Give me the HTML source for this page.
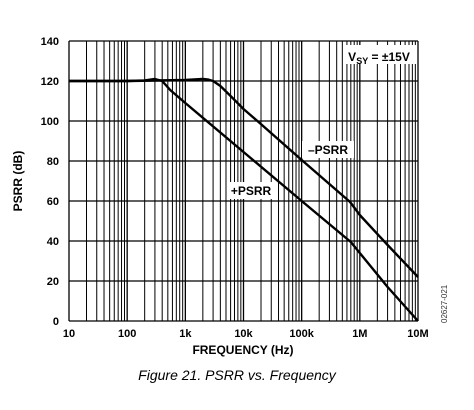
<!DOCTYPE html>
<html><head><meta charset="utf-8"><style>
html,body{margin:0;padding:0;background:#fff;}
svg{display:block;font-family:"Liberation Sans",Arial,sans-serif;}
</style></head><body>
<svg id="chart" width="474" height="410" viewBox="0 0 474 410">
<g id="grid"></g>
<g id="series"></g>
<g id="labels"></g>
<rect x="343" y="45" width="73" height="19" fill="#fff"/>
<text x="379" y="61" text-anchor="middle" font-size="12" font-weight="bold">V<tspan font-size="9" dy="3">SY</tspan><tspan dy="-3"> = ±15V</tspan></text>
<rect x="302" y="141" width="52" height="17" fill="#fff"/>
<text x="328" y="154" text-anchor="middle" font-size="12" font-weight="bold">–PSRR</text>
<rect x="228" y="182" width="46" height="17" fill="#fff"/>
<text x="251" y="195" text-anchor="middle" font-size="12" font-weight="bold">+PSRR</text>
<text x="243" y="354" text-anchor="middle" font-size="12" font-weight="bold">FREQUENCY (Hz)</text>
<text transform="translate(22,181) rotate(-90)" text-anchor="middle" font-size="12" font-weight="bold">PSRR (dB)</text>
<text x="237" y="380" text-anchor="middle" font-size="14" font-style="italic" fill="#000">Figure 21. PSRR vs. Frequency</text>
<text transform="translate(447,323) rotate(-90)" font-size="8" fill="#333">02627-021</text>
</svg>
<script>
const xTickValues=[10,100,1000,10000,100000,1000000,10000000];
const xTickLabels=["10","100","1k","10k","100k","1M","10M"];
const yTickValues=[0,20,40,60,80,100,120,140];
const plusFreq=[10,100,200,300,400,550,1000,10000,100000,700000,1000000,3000000,10000000];
const plusDb=[120,120,120.3,121,120,115.5,109,84.5,60,39.5,34,17,0];
const minusFreq=[10,100,1000,2000,2500,3000,4000,6000,10000,19000,100000,680000,1000000,3000000,10000000];
const minusDb=[120,120,120.5,121,120.7,120,117.5,112.5,106,99,80.5,59.5,53,38,22];

const L=69,R=418,T=41,B=321;
const X=f=>L+(Math.log10(f)-1)/6*(R-L);
const Y=d=>B-d/140*(B-T);
const ns="http://www.w3.org/2000/svg";
function mk(tag,attrs,parent){const e=document.createElementNS(ns,tag);for(const k in attrs)e.setAttribute(k,attrs[k]);parent.appendChild(e);return e;}
const grid=document.getElementById('grid'),series=document.getElementById('series'),labels=document.getElementById('labels');
for(let d=1;d<=6;d++){for(let m=2;m<=9;m++){const x=X(Math.pow(10,d)*m);
const ln=mk('line',{x1:x,x2:x,y1:T,y2:B,stroke:'#000','stroke-width':1},grid);

}}
xTickValues.forEach((v,i)=>{const x=X(v);
const ln=mk('line',{x1:x,x2:x,y1:T,y2:B,stroke:'#000','stroke-width':1.3},grid);


const t=mk('text',{x:x,y:337,'text-anchor':'middle','font-size':11,'font-weight':'bold'},labels);t.textContent=xTickLabels[i];

});
yTickValues.forEach(v=>{const y=Y(v);
const ln=mk('line',{x1:L,x2:R,y1:y,y2:y,stroke:'#000','stroke-width':1.3},grid);


const t=mk('text',{x:59,y:y+4,'text-anchor':'end','font-size':11,'font-weight':'bold'},labels);t.textContent=String(v);

});
function draw(fs,ds,name){const p=fs.map((f,i)=>X(f).toFixed(1)+','+Y(ds[i]).toFixed(1)).join(' ');
const pl=mk('polyline',{points:p,fill:'none',stroke:'#000','stroke-width':2.4,'stroke-linejoin':'round'},series);

}
draw(minusFreq,minusDb,'minus-psrr-line');
draw(plusFreq,plusDb,'plus-psrr-line');
</script>
</body></html>
